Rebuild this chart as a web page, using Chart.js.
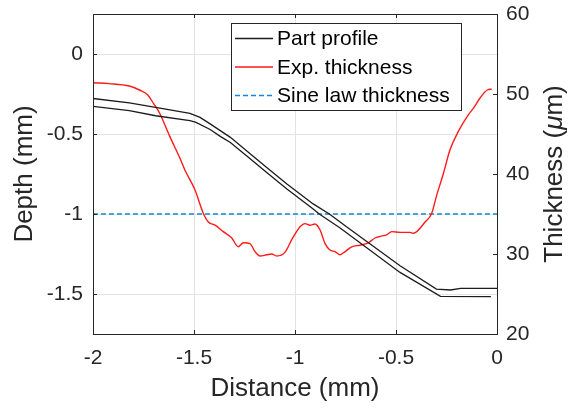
<!DOCTYPE html>
<html lang="en">
<head>
  <meta charset="UTF-8"/>
  <title>Depth and thickness profile</title>
  <script src="https://cdn.jsdelivr.net/npm/chart.js@4.4.1/dist/chart.umd.min.js"></script>
  <style>
    html, body { margin: 0; padding: 0; background: #fff; }
    #wrap { width: 573px; height: 411px; position: relative; }
  </style>
</head>
<body>
  <div id="wrap"><canvas id="chart"></canvas></div>
  <script>
    // tick positions
    const xTicks = [-2, -1.5, -1, -0.5, 0];
    const depthTicks = [0, -0.5, -1, -1.5];
    const thickTicks = [20, 30, 40, 50, 60];

    // part profile, upper edge (depth, mm)
    const profileX1 = [-2.0, -1.82, -1.69, -1.52, -1.47, -1.42, -1.37, -1.32, -1.24, -1.14, -1.04, -0.91, -0.83, -0.74, -0.48, -0.30, -0.23, -0.18, 0];
    const profileY1 = [-0.278, -0.306, -0.334, -0.371, -0.396, -0.437, -0.479, -0.521, -0.604, -0.709, -0.812, -0.937, -1.0, -1.084, -1.323, -1.469, -1.475, -1.465, -1.465];

    // part profile, lower edge
    const profileX2 = [-2.0, -1.82, -1.69, -1.52, -1.49, -1.42, -1.37, -1.32, -1.24, -1.14, -1.04, -0.91, -0.88, -0.78, -0.48, -0.28, -0.03];
    const profileY2 = [-0.327, -0.354, -0.386, -0.417, -0.427, -0.472, -0.515, -0.553, -0.636, -0.740, -0.844, -0.969, -1.0, -1.084, -1.365, -1.515, -1.517];

    // measured thickness (um)
    const thickX = [-2.0, -1.92, -1.82, -1.77, -1.73, -1.70, -1.67, -1.62, -1.57, -1.545, -1.495, -1.454, -1.429, -1.396, -1.355, -1.313, -1.281, -1.256, -1.223, -1.198, -1.173, -1.140, -1.115, -1.091, -1.050, -1.016, -0.975, -0.950, -0.926, -0.901, -0.876, -0.851, -0.827, -0.802, -0.777, -0.752, -0.719, -0.678, -0.637, -0.604, -0.579, -0.546, -0.521, -0.480, -0.431, -0.414, -0.356, -0.323, -0.299, -0.266, -0.233, -0.192, -0.142, -0.117, -0.084, -0.048, -0.026];
    const thickY = [51.4, 51.3, 51.0, 50.5, 49.9, 48.8, 47.6, 44.7, 42.0, 40.5, 38.0, 35.1, 34.0, 33.6, 32.8, 32.0, 30.9, 31.4, 31.3, 30.3, 29.75, 29.9, 30.0, 29.75, 30.2, 31.8, 33.4, 33.8, 33.6, 33.75, 33.0, 31.3, 30.5, 30.3, 29.9, 30.3, 30.9, 31.1, 31.4, 32.0, 32.2, 32.4, 32.8, 32.7, 32.7, 32.6, 34.0, 35.1, 37.3, 40.0, 43.0, 45.3, 47.4, 48.2, 49.5, 50.5, 50.6];

    // sine law thickness
    const sineX = [-2, 0];
    const sineY = [35, 35];

    const pts = (xs, ys) => xs.map((x, i) => ({ x, y: ys[i] }));
    const axisColor = '#262626';
    const fontFamily = '"Liberation Sans", Arial, sans-serif';

    const framePlugin = {
      id: 'frame',
      afterDatasetsDraw(chart) {
        const ctx = chart.ctx;
        const a = chart.chartArea;
        const sx = chart.scales.x, sy = chart.scales.y, sy1 = chart.scales.y1;
        ctx.save();
        ctx.strokeStyle = axisColor;
        ctx.lineWidth = 1;
        // inward tick marks
        ctx.beginPath();
        xTicks.forEach(v => {
          const p = Math.round(sx.getPixelForValue(v)) + 0.5;
          ctx.moveTo(p, a.bottom); ctx.lineTo(p, a.bottom - 4);
          ctx.moveTo(p, a.top); ctx.lineTo(p, a.top + 4);
        });
        depthTicks.forEach(v => {
          const p = Math.round(sy.getPixelForValue(v)) + 0.5;
          ctx.moveTo(a.left, p); ctx.lineTo(a.left + 4, p);
        });
        thickTicks.forEach(v => {
          const p = Math.round(sy1.getPixelForValue(v)) + 0.5;
          ctx.moveTo(a.right, p); ctx.lineTo(a.right - 4, p);
        });
        ctx.stroke();
        // box
        ctx.strokeRect(Math.round(a.left) + 0.5, Math.round(a.top) + 0.5,
          Math.round(a.right - a.left), Math.round(a.bottom - a.top));

        // right axis title, reading bottom to top
        ctx.fillStyle = axisColor;
        ctx.translate(555, (a.top + a.bottom) / 2);
        ctx.rotate(-Math.PI / 2);
        ctx.textBaseline = 'middle';
        const parts = [
          { t: 'Thickness (', f: '26px ' + fontFamily },
          { t: '\u03bc', f: 'italic 26px ' + fontFamily },
          { t: 'm)', f: '26px ' + fontFamily }
        ];
        let total = 0;
        parts.forEach(p => { ctx.font = p.f; total += ctx.measureText(p.t).width; });
        let cx = -total / 2;
        parts.forEach(p => {
          ctx.font = p.f;
          ctx.textAlign = 'left';
          ctx.fillText(p.t, cx, 0);
          cx += ctx.measureText(p.t).width;
        });
        ctx.restore();

        // legend box
        ctx.save();
        const bx = 231, by = 23, bw = 230, bh = 87;
        ctx.fillStyle = '#fff';
        ctx.fillRect(bx, by, bw, bh);
        ctx.strokeStyle = axisColor;
        ctx.lineWidth = 1;
        ctx.strokeRect(bx + 0.5, by + 0.5, bw, bh);
        const seen = new Set();
        const items = chart.data.datasets.filter(d => {
          if (seen.has(d.label)) return false;
          seen.add(d.label); return true;
        });
        ctx.font = '21px ' + fontFamily;
        ctx.textBaseline = 'middle';
        ctx.textAlign = 'left';
        items.forEach((d, i) => {
          const yy = 38.5 + i * 28.5;
          ctx.beginPath();
          ctx.strokeStyle = d.borderColor;
          ctx.lineWidth = d.borderWidth;
          ctx.setLineDash(d.borderDash || []);
          ctx.moveTo(235, yy); ctx.lineTo(273, yy);
          ctx.stroke();
          ctx.setLineDash([]);
          ctx.fillStyle = '#000';
          ctx.fillText(d.label, 277, yy + 1);
        });
        ctx.restore();
      }
    };

    const noPad = s => { s.paddingTop = 0; s.paddingBottom = 0; };

    new Chart(document.getElementById('chart'), {
      type: 'line',
      data: {
        datasets: [
          { label: 'Part profile', data: pts(profileX1, profileY1), yAxisID: 'y',
            borderColor: '#1c1c1c', borderWidth: 1.3, pointRadius: 0, tension: 0 },
          { label: 'Part profile', data: pts(profileX2, profileY2), yAxisID: 'y',
            borderColor: '#1c1c1c', borderWidth: 1.3, pointRadius: 0, tension: 0 },
          { label: 'Exp. thickness', data: pts(thickX, thickY), yAxisID: 'y1',
            borderColor: '#ff1a1a', borderWidth: 1.4, pointRadius: 0,
            cubicInterpolationMode: 'monotone' },
          { label: 'Sine law thickness', data: pts(sineX, sineY), yAxisID: 'y1',
            borderColor: '#1786d8', borderWidth: 1.5, borderDash: [5, 3], pointRadius: 0 }
        ]
      },
      options: {
        responsive: true,
        maintainAspectRatio: false,
        animation: false,
        devicePixelRatio: 1,
        layout: { padding: { top: 14, left: 0, right: 0, bottom: 0 } },
        plugins: { legend: { display: false }, tooltip: { enabled: false } },
        scales: {
          x: {
            type: 'linear', min: -2, max: 0,
            afterBuildTicks: s => { s.ticks = xTicks.map(v => ({ value: v })); },
            afterFit: s => { s.height = 77; s.paddingLeft = 0; s.paddingRight = 0; },
            grid: { color: '#e3e3e3', drawTicks: false },
            border: { display: false },
            ticks: { color: axisColor, padding: 12, font: { size: 21, family: fontFamily },
              maxRotation: 0, callback: v => String(v) },
            title: { display: true, text: 'Distance (mm)', color: axisColor,
              font: { size: 26, family: fontFamily }, padding: { top: 0, bottom: 7 } }
          },
          y: {
            type: 'linear', position: 'left', min: -1.75, max: 0.25,
            afterBuildTicks: s => { s.ticks = depthTicks.map(v => ({ value: v })); },
            afterFit: s => { s.width = 93; noPad(s); },
            grid: { color: '#e3e3e3', drawTicks: false },
            border: { display: false },
            ticks: { color: axisColor, padding: 10, font: { size: 21, family: fontFamily },
              callback: v => String(v) },
            title: { display: true, text: 'Depth (mm)', color: axisColor,
              font: { size: 26, family: fontFamily }, padding: { top: 9, bottom: 0 } }
          },
          y1: {
            type: 'linear', position: 'right', min: 20, max: 60,
            afterBuildTicks: s => { s.ticks = thickTicks.map(v => ({ value: v })); },
            afterFit: s => { s.width = 76; noPad(s); },
            grid: { display: false, drawTicks: false },
            border: { display: false },
            ticks: { color: axisColor, padding: 9, font: { size: 21, family: fontFamily },
              callback: v => String(v) }
          }
        }
      },
      plugins: [framePlugin]
    });
  </script>
</body>
</html>
